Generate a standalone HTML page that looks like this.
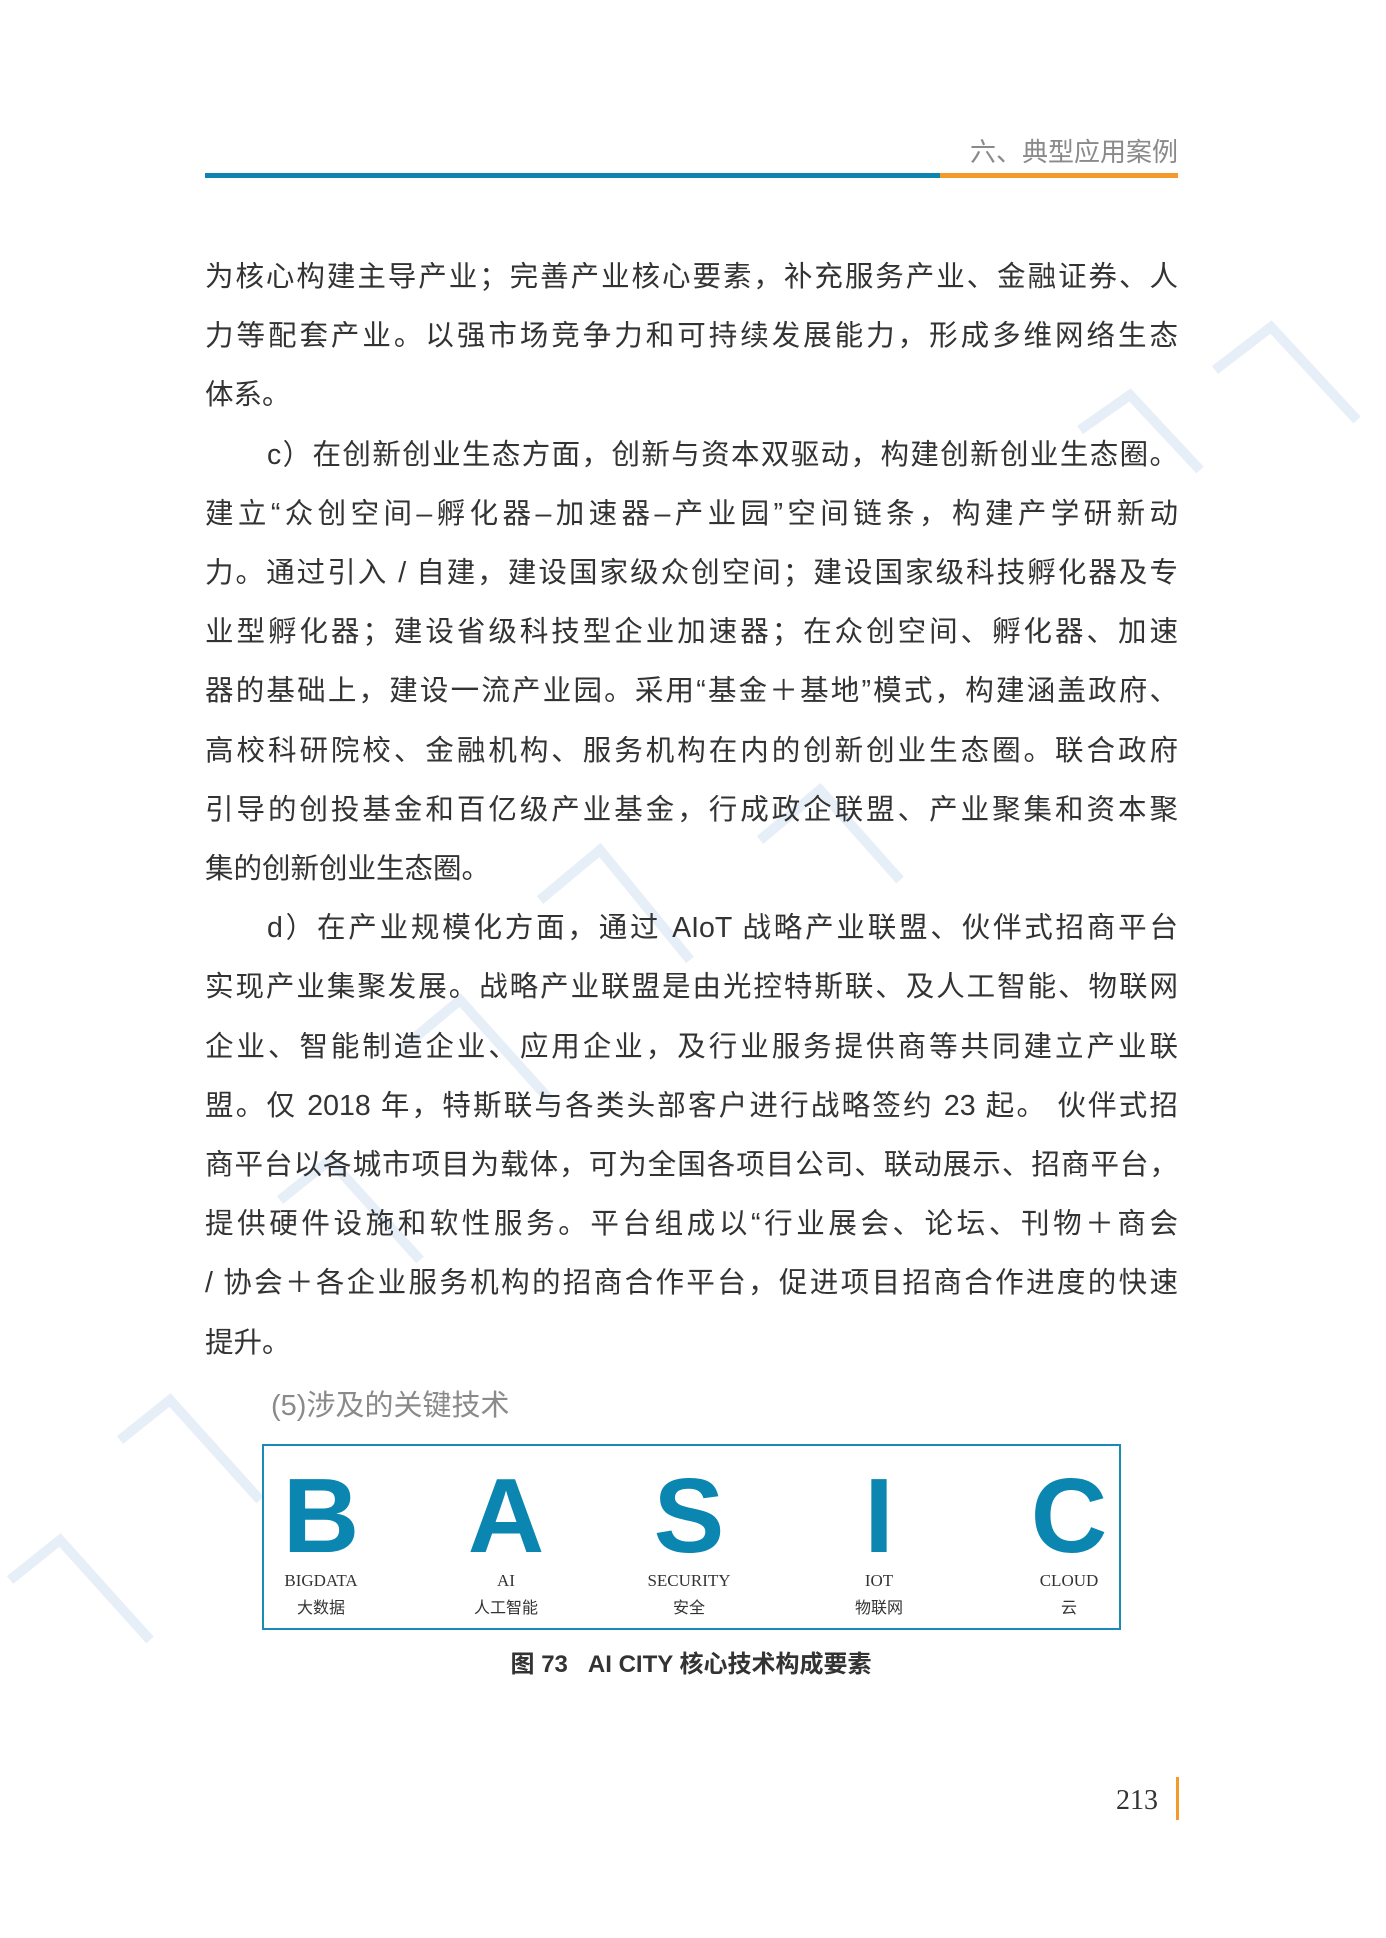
<!DOCTYPE html>
<html><head><meta charset="utf-8">
<style>
body{margin:0;background:#fff;}
#page{position:relative;width:1386px;height:1938px;overflow:hidden;background:#fff;font-family:"Liberation Sans","Noto Sans CJK SC",sans-serif;}
.ln{position:absolute;left:205px;width:973px;height:40px;line-height:40px;font-size:28.5px;color:#333;text-align:justify;text-align-last:justify;white-space:nowrap;}
.ln.last{text-align-last:left;}
.ln.ind{left:267px;width:911px;}
.big{position:absolute;top:1456px;width:160px;margin-left:-80px;text-align:center;font:bold 106px "Liberation Sans",sans-serif;color:#0a86b0;line-height:120px;}
.en{position:absolute;top:1571px;width:160px;margin-left:-80px;text-align:center;font:17px "Liberation Serif",serif;color:#333;}
.cn{position:absolute;top:1594px;width:160px;margin-left:-80px;text-align:center;font:16px "Liberation Sans","Noto Sans CJK SC",sans-serif;color:#333;}
</style></head>
<body>
<div id="page">
<svg style="position:absolute;left:0;top:0" width="1386" height="1938">
<g fill="none" stroke="#e6eef7" stroke-width="10">
<polyline points="1215,370 1271,327 1357,420"/>
<polyline points="1080,430 1130,395 1200,470"/>
<polyline points="760,840 820,790 900,880"/>
<polyline points="540,900 600,850 690,960"/>
<polyline points="280,1200 330,1160 420,1260"/>
<polyline points="120,1440 170,1400 260,1500"/>
<polyline points="10,1580 60,1540 150,1640"/>
<polyline points="400,1050 460,1000 550,1100"/>
</g></svg>
<div style="position:absolute;right:208px;top:132px;font-size:26px;color:#8a8a8a;">六、典型应用案例</div>
<div style="position:absolute;left:205px;top:173px;width:735px;height:5px;background:#0d84b0;"></div>
<div style="position:absolute;left:940px;top:173px;width:238px;height:5px;background:#f39a2b;"></div>

<div class="ln" style="top:257px">为核心构建主导产业；完善产业核心要素，补充服务产业、金融证券、人</div>
<div class="ln" style="top:316px">力等配套产业。以强市场竞争力和可持续发展能力，形成多维网络生态</div>
<div class="ln last" style="top:375px">体系。</div>
<div class="ln ind" style="top:435px">c）在创新创业生态方面，创新与资本双驱动，构建创新创业生态圈。</div>
<div class="ln" style="top:494px">建立“众创空间–孵化器–加速器–产业园”空间链条，构建产学研新动</div>
<div class="ln" style="top:553px">力。通过引入 / 自建，建设国家级众创空间；建设国家级科技孵化器及专</div>
<div class="ln" style="top:612px">业型孵化器；建设省级科技型企业加速器；在众创空间、孵化器、加速</div>
<div class="ln" style="top:671px">器的基础上，建设一流产业园。采用“基金＋基地”模式，构建涵盖政府、</div>
<div class="ln" style="top:731px">高校科研院校、金融机构、服务机构在内的创新创业生态圈。联合政府</div>
<div class="ln" style="top:790px">引导的创投基金和百亿级产业基金，行成政企联盟、产业聚集和资本聚</div>
<div class="ln last" style="top:849px">集的创新创业生态圈。</div>
<div class="ln ind" style="top:908px">d）在产业规模化方面，通过 AIoT 战略产业联盟、伙伴式招商平台</div>
<div class="ln" style="top:967px">实现产业集聚发展。战略产业联盟是由光控特斯联、及人工智能、物联网</div>
<div class="ln" style="top:1027px">企业、智能制造企业、应用企业，及行业服务提供商等共同建立产业联</div>
<div class="ln" style="top:1086px">盟。仅 2018 年，特斯联与各类头部客户进行战略签约 23 起。 伙伴式招</div>
<div class="ln" style="top:1145px">商平台以各城市项目为载体，可为全国各项目公司、联动展示、招商平台，</div>
<div class="ln" style="top:1204px">提供硬件设施和软性服务。平台组成以“行业展会、论坛、刊物＋商会</div>
<div class="ln" style="top:1263px">/ 协会＋各企业服务机构的招商合作平台，促进项目招商合作进度的快速</div>
<div class="ln last" style="top:1323px">提升。</div>

<div style="position:absolute;left:271px;top:1382px;font-size:29px;color:#8a8a8a;">(5)涉及的关键技术</div>

<div style="position:absolute;left:262px;top:1444px;width:855px;height:182px;border:2px solid #1a8bb5;"></div>
<div class="big" style="left:321px">B</div>
<div class="big" style="left:506px">A</div>
<div class="big" style="left:689px">S</div>
<div class="big" style="left:879px">I</div>
<div class="big" style="left:1069px">C</div>
<div class="en" style="left:321px">BIGDATA</div>
<div class="en" style="left:506px">AI</div>
<div class="en" style="left:689px">SECURITY</div>
<div class="en" style="left:879px">IOT</div>
<div class="en" style="left:1069px">CLOUD</div>
<div class="cn" style="left:321px">大数据</div>
<div class="cn" style="left:506px">人工智能</div>
<div class="cn" style="left:689px">安全</div>
<div class="cn" style="left:879px">物联网</div>
<div class="cn" style="left:1069px">云</div>

<div style="position:absolute;left:391px;width:600px;top:1644px;text-align:center;font-size:24px;font-weight:bold;color:#333;">图 73&nbsp;&nbsp; AI CITY 核心技术构成要素</div>

<div style="position:absolute;right:228px;top:1785px;font:28px 'Liberation Serif',serif;color:#333;">213</div>
<div style="position:absolute;left:1176px;top:1777px;width:3px;height:43px;background:#f39a2b;"></div>
</div>
</body></html>
